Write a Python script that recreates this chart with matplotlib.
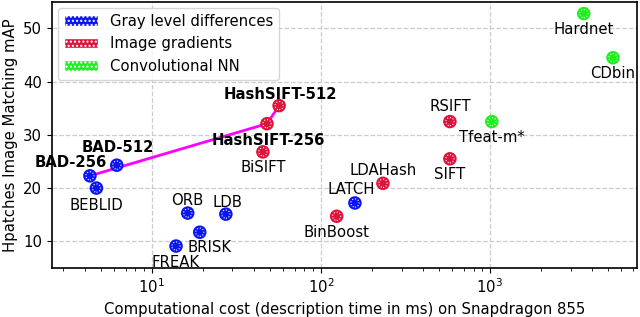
import matplotlib.pyplot as plt
from matplotlib.patches import Patch

# descriptor name, cost (ms), mAP, family, label offset in px (dx, dy), bold
names = ['BAD-256', 'BAD-512', 'BEBLID', 'ORB', 'LDB', 'BRISK', 'FREAK', 'LATCH',
         'BiSIFT', 'HashSIFT-256', 'HashSIFT-512', 'BinBoost', 'LDAHash', 'SIFT', 'RSIFT',
         'Tfeat-m*', 'Hardnet', 'CDbin']
cost = [4.3, 6.2, 4.7, 16.3, 27.4, 19.2, 13.9, 159,
        45.4, 48, 56.6, 124, 233, 580, 580,
        1027, 3593, 5350]
mAP = [22.3, 24.3, 20.0, 15.3, 15.1, 11.7, 9.1, 17.2,
       26.8, 32.1, 35.5, 14.7, 20.9, 25.5, 32.5,
       32.5, 52.8, 44.5]
family = ['gray'] * 8 + ['grad'] * 7 + ['cnn'] * 3
offsets = [(-19, 13), (1, 18), (0, -17), (0, 13), (2, 12), (10, -15), (0, -16), (-4, 13),
           (0, -16), (1, -17), (1, 11), (0, -16), (0, 13), (0, -16), (0, 15),
           (0, -16), (0, -16), (0, -16)]
bold = {'BAD-256', 'BAD-512', 'HashSIFT-256', 'HashSIFT-512'}

# line joining our descriptors
line_names = ['BAD-256', 'HashSIFT-256', 'HashSIFT-512']

colors = {'gray': '#0a14f5', 'grad': '#dc143c', 'cnn': '#1ef01e'}
legend_labels = {'gray': 'Gray level differences', 'grad': 'Image gradients',
                 'cnn': 'Convolutional NN'}

fs = 10.7

fig, ax = plt.subplots(figsize=(6.4, 3.17), dpi=100)
fig.subplots_adjust(left=0.081, right=0.995, bottom=0.155, top=0.994)

lx = [cost[names.index(n)] for n in line_names]
ly = [mAP[names.index(n)] for n in line_names]
ax.plot(lx, ly, color='#ff00ff', lw=2.0, zorder=2)

for i, n in enumerate(names):
    c = colors[family[i]]
    ax.scatter(cost[i], mAP[i], s=95, color=c, edgecolors='none', zorder=3)
    ax.scatter(cost[i], mAP[i], s=35, facecolors='none', edgecolors='white',
               linewidths=0.8, linestyle=':', zorder=4)
    dx, dy = offsets[i]
    ax.annotate(n, (cost[i], mAP[i]), xytext=(dx * 0.72, dy * 0.72),
                textcoords='offset points', ha='center', va='center',
                fontsize=fs, fontweight='bold' if n in bold else 'normal', zorder=5)

ax.set_xscale('log')
ax.set_xlim(2.56, 7400)
ax.set_ylim(5, 55)
ax.set_yticks([10, 20, 30, 40, 50])
ax.grid(True, which='major', linestyle='--', color='#cccccc', lw=0.9)
ax.set_axisbelow(True)
ax.tick_params(labelsize=fs)
for s in ax.spines.values():
    s.set_linewidth(1.2)

ax.set_xlabel('Computational cost (description time in ms) on Snapdragon 855', fontsize=fs)
ax.set_ylabel('Hpatches Image Matching mAP', fontsize=fs)

handles = [Patch(facecolor=colors[k], edgecolor='white', hatch='....', label=legend_labels[k])
           for k in ['gray', 'grad', 'cnn']]
leg = ax.legend(handles=handles, loc='upper left', fontsize=fs, framealpha=0.8,
                handlelength=2.3, borderaxespad=0.4)

plt.savefig('out.png', dpi=100)
